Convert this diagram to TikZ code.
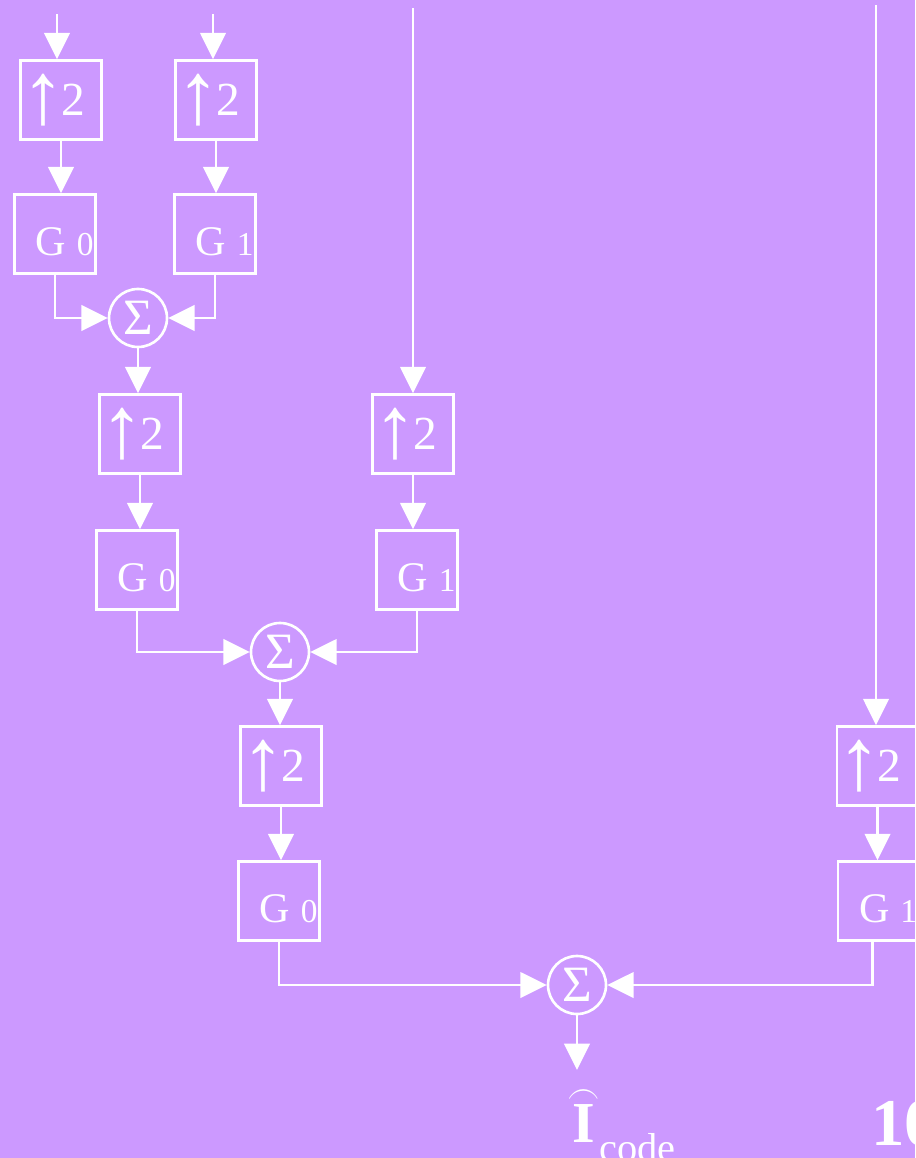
\documentclass[tikz,border=0pt]{standalone}
\usepackage{fontspec}
\setmainfont{Liberation Serif}
\usepackage{amsmath}
\usepackage{xcolor}
\usetikzlibrary{arrows.meta, calc}
\definecolor{bgviolet}{HTML}{CC99FF}

\newcommand{\uptwo}{\raisebox{-4.5pt}{\fontsize{50}{52}\selectfont ↑}\hspace{-2.5pt}{\fontsize{27}{30}\selectfont 2}\hspace*{9pt}}
\newcommand{\gfilt}[1]{\hspace*{11pt}\raisebox{-4.5pt}[\height][0pt]{\fontsize{24}{26}\selectfont G {\fontsize{19}{20}\selectfont #1}}}

\begin{document}
\begin{tikzpicture}[
    x=0.02cm, y=-0.02cm,
    block/.style={rectangle, draw=white, line width=1.5pt, text=white,
      minimum width=1.62cm, minimum height=1.58cm, inner sep=0pt},
    adder/.style={circle, draw=white, line width=1.5pt, text=white,
      minimum size=1.16cm, inner sep=0pt, font=\fontsize{29}{30}\selectfont},
    arrow/.style={white, line width=1.5pt, -{Triangle[length=15pt, width=14.5pt]}}
]
\useasboundingbox (0,0) rectangle (915,1158);
\clip (0,0) rectangle (915,1158);
\fill[bgviolet] (0,0) rectangle (915,1158);

% level 1
\node[block] (u1a) at (61,100)  {\uptwo};
\node[block] (u1b) at (216,100) {\uptwo};
\node[block] (g1a) at (55,234)  {\gfilt{0}};
\node[block] (g1b) at (215,234) {\gfilt{1}};
\node[adder] (s1)  at (138,318) {Σ};

% level 2
\node[block] (u2a) at (140,434) {\uptwo};
\node[block] (u2b) at (413,434) {\uptwo};
\node[block] (g2a) at (137,570) {\gfilt{0}};
\node[block] (g2b) at (417,570) {\gfilt{1}};
\node[adder] (s2)  at (280,652) {Σ};

% level 3
\node[block] (u3a) at (281,766)   {\uptwo};
\node[block] (u3b) at (877.5,766) {\uptwo};
\node[block] (g3a) at (279,901)   {\gfilt{0}};
\node[block] (g3b) at (878.5,901) {\gfilt{1}};
\node[adder] (s3)  at (577,985)   {Σ};

% inputs and output
\coordinate (in1a) at (57,14);
\coordinate (in1b) at (213,14);
\coordinate (in2b) at (413,8);
\coordinate (in3b) at (876,5);
\coordinate (out)  at (577,1070);

\node[anchor=base west, inner sep=0pt, text=white,
  font=\fontsize{33}{36}\selectfont] (ihat) at (567,1142)
  {$\overset{\raisebox{-5pt}[0pt][0pt]{\scalebox{0.75}[0.9]{$\frown$}}}{\mbox{\bfseries I}}$\raisebox{-11pt}{\fontsize{23}{24}\selectfont code}};
\node[anchor=base west, inner sep=0pt, text=white,
  font=\bfseries\fontsize{38}{40}\selectfont] (pg) at (871,1145) {10};

\draw[arrow] (in1a) -- (in1a |- u1a.north);
\draw[arrow] (in1b) -- (in1b |- u1b.north);
\draw[arrow] (u1a.south) -- (u1a.south |- g1a.north);
\draw[arrow] (u1b.south) -- (u1b.south |- g1b.north);
\draw[arrow] (g1a.south) |- (s1.west);
\draw[arrow] (g1b.south) |- (s1.east);

\draw[arrow] (s1.south) -- (s1.south |- u2a.north);
\draw[arrow] (in2b) -- (in2b |- u2b.north);
\draw[arrow] (u2a.south) -- (u2a.south |- g2a.north);
\draw[arrow] (u2b.south) -- (u2b.south |- g2b.north);
\draw[arrow] (g2a.south) |- (s2.west);
\draw[arrow] (g2b.south) |- (s2.east);

\draw[arrow] (s2.south) -- (s2.south |- u3a.north);
\draw[arrow] (in3b) -- (in3b |- u3b.north);
\draw[arrow] (u3a.south) -- (u3a.south |- g3a.north);
\draw[arrow] (u3b.south) -- (u3b.south |- g3b.north);
\draw[arrow] (g3a.south) |- (s3.west);
\draw[arrow] ([xshift=-3.4pt]g3b.south) |- (s3.east);

\draw[arrow] (s3.south) -- (out);
\end{tikzpicture}
\end{document}
